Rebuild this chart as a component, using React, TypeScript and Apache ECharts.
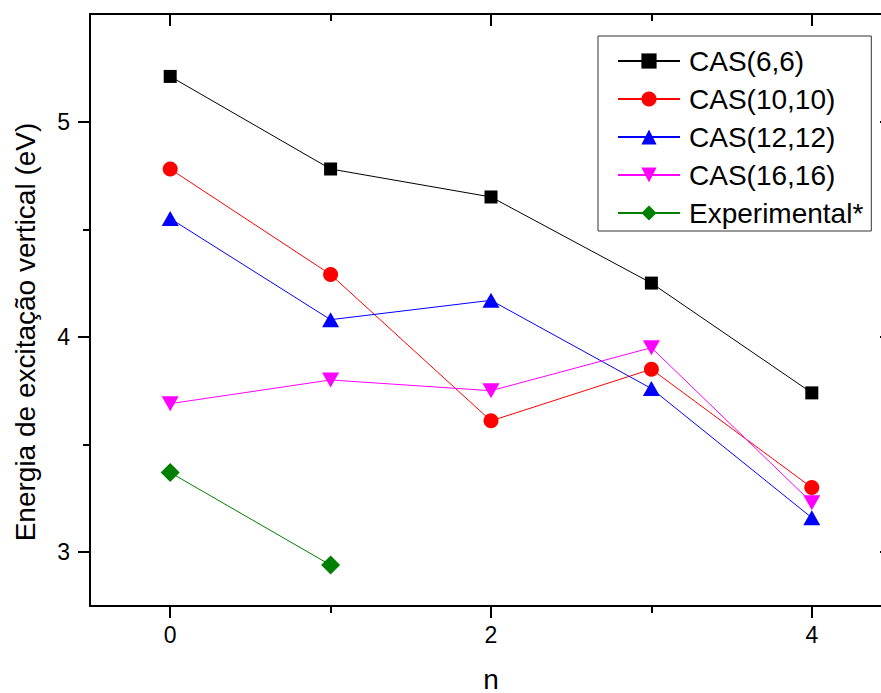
import React, { useEffect, useRef } from "react";
import * as echarts from "echarts";

const nValues = [0, 1, 2, 3, 4];
const cas66 = [5.21, 4.78, 4.65, 4.25, 3.74];
const cas1010 = [4.78, 4.29, 3.61, 3.85, 3.3];
const cas1212 = [4.55, 4.08, 4.17, 3.76, 3.16];
const cas1616 = [3.69, 3.8, 3.75, 3.95, 3.23];
const experimental = [3.37, 2.94];

const xLabelValues = [0, 2, 4];
const xMinorValues = [1, 3];
const yLabelValues = [3, 4, 5];
const yMinorValues = [3.5, 4.5];

const FONT = "'Liberation Sans', Arial, Helvetica, sans-serif";

function pairs(vals: number[]) {
  return vals.map((v, i) => [nValues[i], v]);
}

export default function App() {
  const ref = useRef<HTMLDivElement>(null);
  useEffect(() => {
    if (!ref.current) return;
    const chart = echarts.init(ref.current, undefined, { renderer: "svg" });
    const lineBase = { show: true, onZero: false, lineStyle: { color: "#000", width: 2 } };
    const xBase = { type: "value", min: -0.5, max: 4.5, splitLine: { show: false } };
    const yBase = { type: "value", min: 2.75, max: 5.5, splitLine: { show: false } };
    const mkX = (position: string, ticks: number[], len: number, inside: boolean, labels: boolean, line: boolean, extra: any = {}) => ({
      ...xBase,
      position,
      axisLine: line ? lineBase : { show: false, onZero: false },
      axisTick: { show: true, customValues: ticks, length: len, inside, lineStyle: { color: "#000", width: 2 } },
      axisLabel: labels
        ? { show: true, customValues: xLabelValues, fontSize: 23, color: "#000", fontFamily: FONT, margin: 17 }
        : { show: false },
      ...extra,
    });
    const mkY = (position: string, ticks: number[], len: number, inside: boolean, labels: boolean, line: boolean) => ({
      ...yBase,
      position,
      axisLine: line ? lineBase : { show: false, onZero: false },
      axisTick: { show: true, customValues: ticks, length: len, inside, lineStyle: { color: "#000", width: 2 } },
      axisLabel: labels
        ? { show: true, customValues: yLabelValues, fontSize: 23, color: "#000", fontFamily: FONT, margin: 20 }
        : { show: false },
    });
    const seriesBase = (name: string, vals: number[], color: string, symbol: string, size: any, rotate = 0) => ({
      name,
      type: "line",
      xAxisIndex: 0,
      yAxisIndex: 0,
      data: pairs(vals),
      symbol,
      symbolSize: size,
      symbolRotate: rotate,
      showAllSymbol: true,
      lineStyle: { color, width: 1 },
      itemStyle: { color, opacity: 1 },
      emphasis: { disabled: true },
    });
    chart.setOption({
      animation: false,
      backgroundColor: "#fff",
      grid: { left: 90, top: 14, width: 802, height: 592, containLabel: false, outerBoundsMode: "none" },
      xAxis: [
        mkX("bottom", xLabelValues, 12, false, true, true, {
          name: "n",
          nameLocation: "middle",
          nameGap: 59,
          nameTextStyle: { fontSize: 28, color: "#000", fontFamily: FONT },
        }),
        mkX("bottom", xMinorValues, 7, false, false, false),
        mkX("top", xLabelValues, 12, true, false, true),
        mkX("top", xMinorValues, 7, true, false, false),
      ],
      yAxis: [
        mkY("left", yLabelValues, 12, false, true, true),
        mkY("left", yMinorValues, 7, false, false, false),
        mkY("right", yLabelValues, 12, true, false, true),
        mkY("right", yMinorValues, 7, true, false, false),
      ],
      legend: {
        orient: "vertical",
        left: 598,
        top: 36,
        padding: [11, 8, 4, 19],
        borderColor: "#333",
        borderWidth: 1,
        backgroundColor: "#fff",
        itemWidth: 62,
        itemHeight: 19,
        itemGap: 10,
        textStyle: { fontSize: 28, lineHeight: 24, color: "#000", fontFamily: FONT, padding: [0, 0, 0, 4] },
        data: ["CAS(6,6)", "CAS(10,10)", "CAS(12,12)", "CAS(16,16)", "Experimental*"],
      },
      graphic: [
        {
          type: "text",
          x: 25,
          y: 332,
          rotation: Math.PI / 2,
          style: {
            text: "Energia de excitação vertical (eV)",
            font: `28px ${FONT}`,
            fill: "#000",
            textAlign: "center",
            textVerticalAlign: "middle",
          },
        },
      ],
      series: [
        seriesBase("CAS(6,6)", cas66, "#000000", "rect", 13),
        seriesBase("CAS(10,10)", cas1010, "#ff0000", "circle", 15),
        seriesBase("CAS(12,12)", cas1212, "#0000ff", "triangle", [17, 15]),
        seriesBase("CAS(16,16)", cas1616, "#ff00ff", "triangle", [17, 15], 180),
        seriesBase("Experimental*", experimental, "#008000", "diamond", 19),
      ],
    });
    return () => chart.dispose();
  }, []);
  return <div ref={ref} style={{ position: "fixed", left: 0, top: 0, width: 900, height: 693 }} />;
}
